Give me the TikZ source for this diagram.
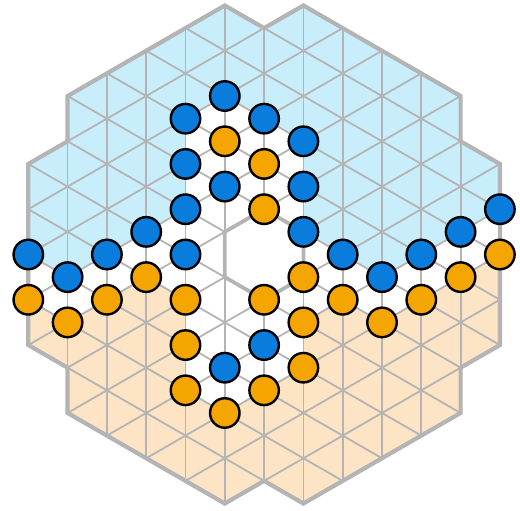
\documentclass[tikz,border=0pt]{standalone}
\usepackage{xcolor}

\definecolor{upfill}{HTML}{C8EEFC}
\definecolor{downfill}{HTML}{FDE4C4}
\definecolor{upsite}{HTML}{0A7DDC}
\definecolor{downsite}{HTML}{F5A500}
\definecolor{latgray}{HTML}{B4B4B4}

\begin{document}
\begin{tikzpicture}[
  x=39.3pt, y=22.64pt,
  lattice/.style={draw=latgray, line width=1.8pt},
  rim/.style={draw=latgray, line width=4.2pt},
  spin/.style={circle, draw=black, line width=2.4pt,
    minimum size=29.5pt, inner sep=0pt},
  upspin/.style={spin, fill=upsite},
  downspin/.style={spin, fill=downsite},
]
\useasboundingbox (-28.3pt,-256.5pt) rectangle (491.7pt,254.5pt);

\def\rimpath{(5,11) -- (6,10) -- (7,11) -- (11,7) -- (11,5) -- (12,4)
  -- (12,-4) -- (11,-5) -- (11,-7) -- (7,-11) -- (6,-10) -- (5,-11)
  -- (1,-7) -- (1,-5) -- (0,-4) -- (0,4) -- (1,5) -- (1,7) -- cycle}

% Domains
\fill[upfill] (0,0) -- (1,-1) -- (2,0) -- (3,1) -- (4,2) -- (4,6) -- (5,7)
  -- (6,6) -- (7,5) -- (7,1) -- (8,0) -- (9,-1) -- (10,0) -- (12,2)
  -- (12,4) -- (11,5) -- (11,7) -- (7,11) -- (6,10) -- (5,11) -- (1,7)
  -- (1,5) -- (0,4) -- cycle;
\fill[downfill] (0,-2) -- (1,-3) -- (2,-2) -- (3,-1) -- (4,-2) -- (4,-6)
  -- (5,-7) -- (6,-6) -- (7,-5) -- (7,-3) -- (8,-2) -- (9,-3) -- (10,-2)
  -- (12,0) -- (12,-4) -- (11,-5) -- (11,-7) -- (7,-11) -- (6,-10)
  -- (5,-11) -- (1,-7) -- (1,-5) -- (0,-4) -- cycle;

% Triangular lattice
\begin{scope}
  \clip \rimpath;
  \foreach \i in {0,...,12}
    \draw[lattice] (\i,-12) -- (\i,12);
  \foreach \k in {-26,-24,...,26} {
    \draw[lattice] (-1,\k-1) -- (13,\k+13);
    \draw[lattice] (-1,\k+1) -- (13,\k-13);
  }
\end{scope}

% Hole and outer rim
\filldraw[rim, fill=white, line width=3.8pt]
  (6,2) -- (7,1) -- (7,-1) -- (6,-2) -- (5,-1) -- (5,1) -- cycle;
\draw[rim] \rimpath;

% Up sites
\foreach \i/\j in {0/0, 1/-1, 2/0, 3/1, 4/0, 4/2, 4/4, 4/6, 5/7, 6/6, 7/5,
    7/3, 7/1, 5/3, 8/0, 9/-1, 10/0, 11/1, 12/2, 6/-4, 5/-5}
  \node[upspin] (u-\i-\j) at (\i,\j) {};

% Down sites
\foreach \i/\j in {0/-2, 1/-3, 2/-2, 3/-1, 4/-2, 4/-4, 4/-6, 5/-7, 6/-6,
    7/-5, 7/-3, 6/-2, 7/-1, 8/-2, 9/-3, 10/-2, 11/-1, 12/0, 5/5, 6/4, 6/2}
  \node[downspin] (d-\i-\j) at (\i,\j) {};

\end{tikzpicture}
\end{document}
